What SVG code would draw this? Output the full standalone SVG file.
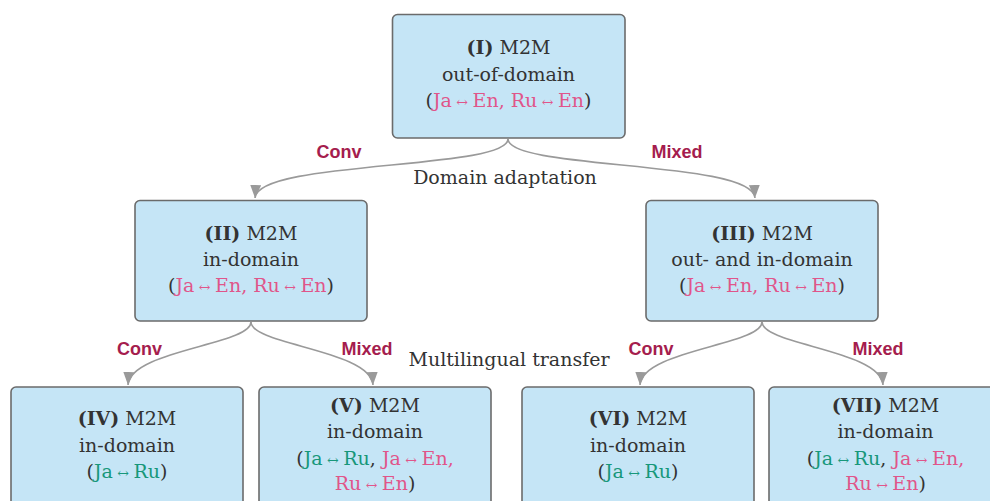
<svg xmlns="http://www.w3.org/2000/svg" width="990" height="501" viewBox="0 0 990 501">
<defs>
<style>
.box{fill:#c5e5f6;stroke:#6b6b6b;stroke-width:1.6}
.t{font-family:"DejaVu Serif","Liberation Serif",serif;font-size:19px;fill:#333;text-anchor:middle}
.b{font-weight:bold}
.p{fill:#e0558a}
.g{fill:#17977a}
.ar{font-size:14px}
.lab{font-family:"Liberation Sans",Arial,sans-serif;font-weight:bold;font-size:18px;fill:#a51d4e;text-anchor:middle}
.cap{font-family:"DejaVu Serif","Liberation Serif",serif;font-size:19px;fill:#333;text-anchor:middle}
.con{fill:none;stroke:#9a9a9a;stroke-width:1.6}
</style>
<marker id="ah" markerUnits="userSpaceOnUse" markerWidth="15" markerHeight="13" refX="13" refY="5.5" orient="auto">
<path d="M0,0 L13,5.5 L0,11 z" fill="#9a9a9a"/>
</marker>
</defs>
<rect width="990" height="501" fill="#fff"/>
<g id="connectors">
<path class="con" d="M508,139 C508,170 257,160 255,198" marker-end="url(#ah)"/>
<path class="con" d="M508,139 C508,170 753,160 755,198" marker-end="url(#ah)"/>
<path class="con" d="M251,322 C251,345 130,350 128,385" marker-end="url(#ah)"/>
<path class="con" d="M251,322 C251,345 371,350 373,385" marker-end="url(#ah)"/>
<path class="con" d="M762,322 C762,345 642,350 640,385" marker-end="url(#ah)"/>
<path class="con" d="M762,322 C762,345 881,350 883,385" marker-end="url(#ah)"/>
</g>
<g id="labels">
<text class="lab" x="339" y="158">Conv</text>
<text class="lab" x="677" y="158">Mixed</text>
<text class="cap" x="505" y="184">Domain adaptation</text>
<text class="lab" x="139.5" y="355">Conv</text>
<text class="lab" x="367" y="355">Mixed</text>
<text class="cap" x="509" y="366">Multilingual transfer</text>
<text class="lab" x="651" y="355">Conv</text>
<text class="lab" x="878" y="355">Mixed</text>
</g>
<g id="n1">
<rect class="box" x="392.5" y="14.5" width="232.5" height="123.5" rx="5"/>
<text class="t" x="508.5" y="54"><tspan class="b">(I)</tspan> M2M</text>
<text class="t" x="508.5" y="81">out-of-domain</text>
<text class="t" x="508.5" y="107">(<tspan class="p">Ja</tspan><tspan class="p ar"> ↔ </tspan><tspan class="p">En, Ru</tspan><tspan class="p ar"> ↔ </tspan><tspan class="p">En</tspan>)</text>
</g>
<g id="n2">
<rect class="box" x="135" y="200.5" width="232" height="120.5" rx="5"/>
<text class="t" x="251" y="240"><tspan class="b">(II)</tspan> M2M</text>
<text class="t" x="251" y="266">in-domain</text>
<text class="t" x="251" y="292">(<tspan class="p">Ja</tspan><tspan class="p ar"> ↔ </tspan><tspan class="p">En, Ru</tspan><tspan class="p ar"> ↔ </tspan><tspan class="p">En</tspan>)</text>
</g>
<g id="n3">
<rect class="box" x="646" y="200.5" width="232" height="120.5" rx="5"/>
<text class="t" x="762" y="240"><tspan class="b">(III)</tspan> M2M</text>
<text class="t" x="762" y="266">out- and in-domain</text>
<text class="t" x="762" y="292">(<tspan class="p">Ja</tspan><tspan class="p ar"> ↔ </tspan><tspan class="p">En, Ru</tspan><tspan class="p ar"> ↔ </tspan><tspan class="p">En</tspan>)</text>
</g>
<g id="n4">
<rect class="box" x="11" y="387" width="232" height="122" rx="5"/>
<text class="t" x="127" y="425"><tspan class="b">(IV)</tspan> M2M</text>
<text class="t" x="127" y="452">in-domain</text>
<text class="t" x="127" y="478">(<tspan class="g">Ja</tspan><tspan class="g ar"> ↔ </tspan><tspan class="g">Ru</tspan>)</text>
</g>
<g id="n5">
<rect class="box" x="259" y="387" width="232" height="122" rx="5"/>
<text class="t" x="375" y="412"><tspan class="b">(V)</tspan> M2M</text>
<text class="t" x="375" y="438">in-domain</text>
<text class="t" x="375" y="465">(<tspan class="g">Ja</tspan><tspan class="g ar"> ↔ </tspan><tspan class="g">Ru</tspan>, <tspan class="p">Ja</tspan><tspan class="p ar"> ↔ </tspan><tspan class="p">En,</tspan></text>
<text class="t" x="375" y="490"><tspan class="p">Ru</tspan><tspan class="p ar"> ↔ </tspan><tspan class="p">En</tspan>)</text>
</g>
<g id="n6">
<rect class="box" x="522" y="387" width="232" height="122" rx="5"/>
<text class="t" x="638" y="425"><tspan class="b">(VI)</tspan> M2M</text>
<text class="t" x="638" y="452">in-domain</text>
<text class="t" x="638" y="478">(<tspan class="g">Ja</tspan><tspan class="g ar"> ↔ </tspan><tspan class="g">Ru</tspan>)</text>
</g>
<g id="n7">
<rect class="box" x="769" y="387" width="233" height="122" rx="5"/>
<text class="t" x="885.5" y="412"><tspan class="b">(VII)</tspan> M2M</text>
<text class="t" x="885.5" y="438">in-domain</text>
<text class="t" x="885.5" y="465">(<tspan class="g">Ja</tspan><tspan class="g ar"> ↔ </tspan><tspan class="g">Ru</tspan>, <tspan class="p">Ja</tspan><tspan class="p ar"> ↔ </tspan><tspan class="p">En,</tspan></text>
<text class="t" x="885.5" y="490"><tspan class="p">Ru</tspan><tspan class="p ar"> ↔ </tspan><tspan class="p">En</tspan>)</text>
</g>
</svg>
